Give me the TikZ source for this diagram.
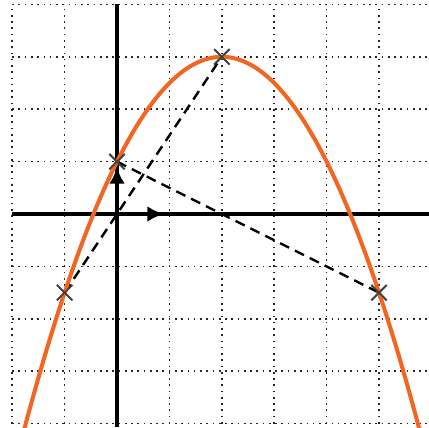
\documentclass[tikz,border=0pt]{standalone}
\usepackage{xcolor}
\usepackage{tikz}
\usetikzlibrary{arrows.meta, shapes.misc, calc}

\definecolor{parabolaorange}{RGB}{242,102,34}

\begin{document}
\begin{tikzpicture}[
    gridline/.style={black!85, line width=0.9pt, dash pattern=on 0.9pt off 2.5pt},
    axisline/.style={black, line width=2pt},
    chord/.style={black, line width=1.3pt, dash pattern=on 5.5pt off 3.5pt},
    basisvec/.style={black, line width=2pt, -{Latex[length=3.2mm, width=3mm]}},
    samplept/.style={cross out, draw=black!75, line width=0.9pt, minimum size=2.6mm, inner sep=0pt}
]
    \useasboundingbox (-2.233,-4.065) rectangle (5.954,4.084);
    \clip (-2.233,-4.065) rectangle (5.954,4.084);

    % Grid and axes
    \draw[gridline] (-2,-4) grid (5.954,4);
    \coordinate (O) at (0,0);
    \draw[axisline] (-2,0) -- (5.954,0);
    \draw[axisline] (0,4) -- (0,-4.065);

    % Sample points on the parabola
    \node[samplept] (p1) at (-1,-1.5) {};
    \node[samplept] (p2) at (0,1) {};
    \node[samplept] (p3) at (2,3) {};
    \node[samplept] (p4) at (5,-1.5) {};

    % Chords
    \draw[chord] (p1.center) -- (p3.center);
    \draw[chord] (p2.center) -- (p4.center);

    % Basis vectors
    \coordinate (ex) at (0.9,0);
    \coordinate (ey) at (0,0.9);
    \draw[basisvec] (O) -- (ex);
    \draw[basisvec] (O) -- (ey);

    % Parabola y = -x^2/2 + 2x + 1
    \draw[parabolaorange, line width=2.2pt, domain=-1.78:5.78, samples=100] plot (\x, {-0.5*\x*\x + 2*\x + 1});

    % redraw marks on top
    \foreach \p in {p1,p2,p3,p4}
        \node[samplept] at (\p) {};
\end{tikzpicture}
\end{document}
